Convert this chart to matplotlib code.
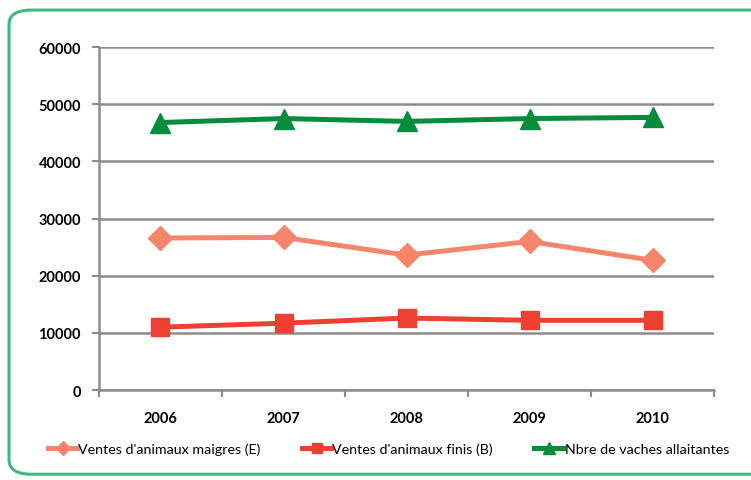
import matplotlib
matplotlib.use('Agg')
import matplotlib.pyplot as plt
from matplotlib.patches import FancyBboxPatch

plt.rcParams['font.family'] = ['Lato', 'DejaVu Sans']

# données
annees = ['2006', '2007', '2008', '2009', '2010']
maigres = [26600, 26700, 23600, 26000, 22700]
finis = [11000, 11700, 12600, 12200, 12200]
vaches = [46800, 47500, 47000, 47500, 47700]

fig = plt.figure(figsize=(7.51, 4.81), dpi=100)
# cadre vert arrondi
cadre = FancyBboxPatch((0.012, 0.012), 1.2, 0.965, boxstyle='round,pad=0,rounding_size=0.03',
                       transform=fig.transFigure, fill=False, edgecolor='#3dba80', linewidth=2.2,
                       clip_on=False)
fig.patches.append(cadre)

ax = fig.add_axes([0.1318, 0.187, 0.819, 0.713])
x = range(len(annees))
ax.plot(x, maigres, color='#f5866c', lw=3.6, marker='D', ms=12, label="Ventes d'animaux maigres (E)")
ax.plot(x, finis, color='#ee3f33', lw=3.6, marker='s', ms=13, label="Ventes d'animaux finis (B)")
ax.plot(x, vaches, color='#058c3c', lw=3.6, marker='^', ms=15, label='Nbre de vaches allaitantes')

ax.set_xlim(-0.5, 4.5)
ax.set_ylim(0, 60000)
ax.set_yticks(range(0, 60001, 10000))
ax.grid(axis='y', color='#8c8c8c', lw=1.8)
ax.set_axisbelow(True)
ax.set_xticks([i - 0.5 for i in range(6)], minor=False)
ax.set_xticklabels([])
ax.set_xticks(list(x), minor=True)
ax.set_xticklabels(annees, minor=True, fontsize=10.5, fontweight='bold')
ax.tick_params(axis='x', which='minor', length=0, pad=15)
ax.tick_params(axis='x', which='major', length=5, width=1.5, color='#8c8c8c', direction='out')
ax.tick_params(axis='y', length=5, width=1.5, color='#8c8c8c', labelsize=10.5, pad=8)
for t in ax.get_yticklabels():
    t.set_fontweight('bold')
for s in ['top', 'right']:
    ax.spines[s].set_visible(False)
for s in ['left', 'bottom']:
    ax.spines[s].set_color('#8c8c8c')
    ax.spines[s].set_linewidth(1.8)

ax.legend(loc='upper center', bbox_to_anchor=(0.471, -0.115), ncol=3, frameon=False,
          fontsize=10.3, handlelength=2.0, handletextpad=0.1, columnspacing=2.9, markerscale=0.6)

plt.savefig('out.png', dpi=100)
